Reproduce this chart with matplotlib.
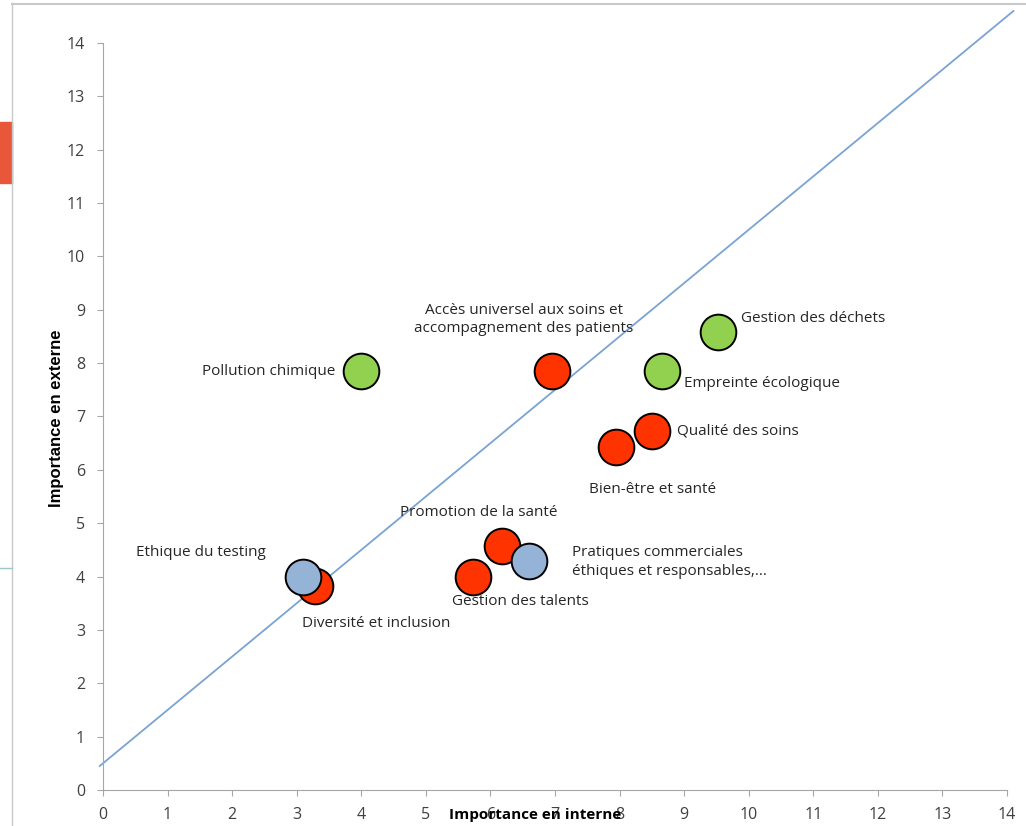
import numpy as np
import matplotlib
matplotlib.use('Agg')
import matplotlib.pyplot as plt
from matplotlib.patches import Rectangle
from matplotlib.lines import Line2D

plt.rcParams['font.family'] = ['Open Sans', 'DejaVu Sans']

# enjeux : nom, importance interne, importance externe, groupe
noms = ['Pollution chimique', 'Accès universel aux soins et\naccompagnement des patients',
        'Gestion des déchets', 'Empreinte écologique', 'Qualité des soins',
        'Bien-être et santé', 'Promotion de la santé', 'Pratiques commerciales\néthiques et responsables,...',
        'Gestion des talents', 'Diversité et inclusion', 'Ethique du testing']
interne = [4.0, 6.95, 9.53, 8.65, 8.5, 7.95, 6.18, 6.6, 5.73, 3.28, 3.1]
externe = [7.85, 7.85, 8.58, 7.85, 6.72, 6.42, 4.57, 4.3, 4.0, 3.83, 4.0]
groupe = ['env', 'soc', 'env', 'env', 'soc', 'soc', 'soc', 'gouv', 'soc', 'soc', 'gouv']

couleurs = {'env': '#92d050', 'soc': '#ff3300', 'gouv': '#95b3d7'}

# decalage des etiquettes (points) et alignement
decal = [(-19, 0, 'right', 'center'), (-20, 37, 'center', 'center'),
         (16, 10, 'left', 'center'), (16, -9, 'left', 'center'),
         (18, 0, 'left', 'center'), (26, -30, 'center', 'center'),
         (-17, 24, 'center', 'center'), (31, -1, 'left', 'center'),
         (34, -18, 'center', 'center'), (-9, -27, 'left', 'center'),
         (-27, 17, 'right', 'center')]

# diagonale y = x + 0.5
diag_x = [-0.05, 14.1]
diag_y = [x + 0.5 for x in diag_x]

fig = plt.figure(figsize=(10.26, 8.26), dpi=100)
ax = fig.add_axes([0.1004, 0.0436, 0.8811, 0.9044])

ax.plot(diag_x, diag_y, color='#7aa3d4', lw=1.3, clip_on=False, zorder=1)

for i in range(len(noms)):
    ax.scatter(interne[i], externe[i], s=660, color=couleurs[groupe[i]],
               edgecolor='black', linewidth=1.4, zorder=2 + i, clip_on=False)
    dx, dy, ha, va = decal[i]
    ax.annotate(noms[i], (interne[i], externe[i]), xytext=(dx, dy),
                textcoords='offset points', ha=ha, va=va, fontsize=11,
                color='#262626', linespacing=1.3)

ax.set_xlim(0, 14)
ax.set_ylim(0, 14)
ax.set_xticks(range(15))
ax.set_yticks(range(15))
for s in ['top', 'right']:
    ax.spines[s].set_visible(False)
for s in ['left', 'bottom']:
    ax.spines[s].set_color('#a6a6a6')
ax.tick_params(colors='#a6a6a6', labelcolor='#404040', labelsize=11.5, length=4)
ax.tick_params(axis='y', pad=9)
ax.tick_params(axis='x', pad=8)

ax.set_xlabel('Importance en interne', fontsize=11, fontweight='bold')
ax.xaxis.set_label_coords(0.478, -0.033)
ax.xaxis.label.set_va('center')
ax.set_ylabel('Importance en externe', fontsize=12, fontweight='bold',
              family=['Liberation Sans Narrow', 'Liberation Sans', 'DejaVu Sans'])
ax.yaxis.set_label_coords(-0.051, 0.498)
ax.yaxis.label.set_va('center')

# restes de la capture d'ecran
fig.add_artist(Rectangle((0, 1 - 183 / 826), 12 / 1026, 61 / 826,
                         transform=fig.transFigure, color='#e8573a'))
fig.add_artist(Line2D([12 / 1026, 12 / 1026], [0, 1 - 3 / 826],
                      transform=fig.transFigure, color='#c8c8c8', lw=1))
fig.add_artist(Line2D([0, 12 / 1026], [1 - 568 / 826, 1 - 568 / 826],
                      transform=fig.transFigure, color='#9fc5c5', lw=1))
fig.add_artist(Line2D([12 / 1026, 1], [1 - 4 / 826, 1 - 4 / 826],
                      transform=fig.transFigure, color='#c8c8c8', lw=1.5))

fig.savefig('out.png', dpi=100)
